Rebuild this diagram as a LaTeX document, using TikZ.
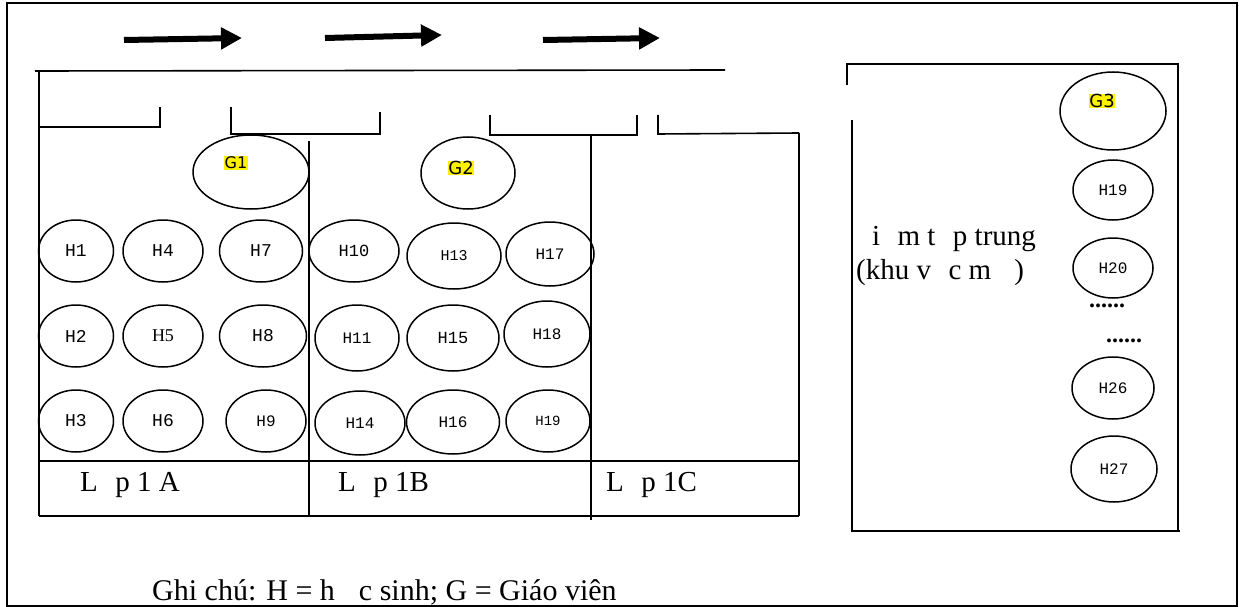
\documentclass[tikz,border=0pt]{standalone}
\usepackage{fontspec}
\setmainfont{Liberation Serif}
\newfontfamily\monof{Liberation Mono}
\newfontfamily\gfont{DejaVu Sans}
\usetikzlibrary{shapes.geometric,arrows.meta}
\begin{document}
\begin{tikzpicture}[x=1pt,y=-1pt,
  ln/.style={line width=1.6pt},
  frame/.style={line width=1.4pt},
  seat/.style={ellipse,draw,line width=1.5pt,inner sep=0pt,font=\monof\fontsize{18}{20}\selectfont},
  tchr/.style={ellipse,draw,line width=1.5pt,inner sep=0pt},
  hl/.style={fill=yellow,inner sep=0.5pt,font=\gfont\fontsize{16}{18}\selectfont},
  lbl/.style={inner sep=0pt,anchor=base west,font=\fontsize{29}{34}\selectfont},
  dots/.style={inner sep=0pt,font=\bfseries\fontsize{24}{26}\selectfont},
  bigarrow/.style={line width=6pt,-{Triangle[length=21pt,width=21pt]}}]
\useasboundingbox (0,0) rectangle (1239,607);
% outer frame
\draw[frame] (7,3) rectangle (1237,606);
% arrows
\coordinate (a1s) at (124,40); \coordinate (a1e) at (242,38);
\coordinate (a2s) at (325,38); \coordinate (a2e) at (442,35);
\coordinate (a3s) at (543,40); \coordinate (a3e) at (660,38);
\draw[bigarrow] (a1s) -- (a1e);
\draw[bigarrow] (a2s) -- (a2e);
\draw[bigarrow] (a3s) -- (a3e);
% top corridor line
\draw[ln] (35,71) -- (725,70);
% left wall
\draw[ln] (39,70) -- (39,516);
% brackets (doors)
\draw[ln] (39,127) -- (160,127) -- (160,107);
\draw[ln] (231,107) -- (231,134) -- (380,134) -- (380,112);
\draw[ln] (490,115) -- (490,135) -- (637,135) -- (637,115);
\draw[ln] (658,115) -- (658,134) -- (799,133);
% class walls
\draw[ln] (309,141) -- (309,516);
\draw[ln] (591,136) -- (591,520);
\draw[ln] (799,133) -- (799,516);
% table rows
\draw[ln] (39,461) -- (799,461);
\draw[ln] (39,516) -- (799,516);
% right panel
\draw[ln] (847,85) -- (847,64) -- (1178,64) -- (1178,531);
\draw[ln] (852,120) -- (852,531) -- (1180,531);
% teachers
\node[tchr,minimum width=116,minimum height=74] (G1) at (251,172) {};
\node[hl] (G1t) at (236,163) {G1};
\node[tchr,minimum width=94,minimum height=72] (G2) at (468,173) {};
\node[hl,font=\gfont\fontsize{18}{20}\selectfont] (G2t) at (461,168) {G2};
\node[tchr,minimum width=106,minimum height=78] (G3) at (1113,111) {};
\node[hl,font=\gfont\fontsize{18}{20}\selectfont] (G3t) at (1102,101) {G3};
% class 1A
\node[seat,minimum width=75,minimum height=62] (H1) at (76,251) {H1};
\node[seat,minimum width=80,minimum height=62] (H4) at (163,251) {H4};
\node[seat,minimum width=83,minimum height=62] (H7) at (261,251) {H7};
\node[seat,minimum width=75,minimum height=62] (H2) at (76,336) {H2};
\node[seat,minimum width=80,minimum height=62,font=\fontsize{18}{20}\selectfont] (H5) at (163,336) {H5};
\node[seat,minimum width=87,minimum height=62] (H8) at (263,336) {H8};
\node[seat,minimum width=75,minimum height=62] (H3) at (76,421) {H3};
\node[seat,minimum width=80,minimum height=62] (H6) at (163,421) {H6};
\node[seat,minimum width=80,minimum height=62,font=\monof\fontsize{16}{18}\selectfont] (H9) at (266,421) {H9};
% class 1B
\node[seat,minimum width=90,minimum height=62,font=\monof\fontsize{17}{19}\selectfont] (H10) at (354,251) {H10};
\node[seat,minimum width=94,minimum height=66,font=\monof\fontsize{15}{17}\selectfont] (H13) at (454,256) {H13};
\node[seat,minimum width=88,minimum height=64,font=\monof\fontsize{16}{18}\selectfont] (H17) at (550,254) {H17};
\node[seat,minimum width=84,minimum height=66,font=\monof\fontsize{16}{18}\selectfont] (H11) at (357,338) {H11};
\node[seat,minimum width=92,minimum height=66,font=\monof\fontsize{17}{19}\selectfont] (H15) at (453,338) {H15};
\node[seat,minimum width=86,minimum height=66,font=\monof\fontsize{16}{18}\selectfont] (H18) at (547,334) {H18};
\node[seat,minimum width=90,minimum height=64,font=\monof\fontsize{16}{18}\selectfont] (H14) at (360,423) {H14};
\node[seat,minimum width=93,minimum height=64,font=\monof\fontsize{16}{18}\selectfont] (H16) at (453,422) {H16};
\node[seat,minimum width=84,minimum height=62,font=\monof\fontsize{14}{16}\selectfont] (H19) at (548,421) {H19};
% right panel seats
\node[seat,minimum width=80,minimum height=60,font=\monof\fontsize{16}{18}\selectfont] (R19) at (1113,190) {H19};
\node[seat,minimum width=80,minimum height=60,font=\monof\fontsize{16}{18}\selectfont] (R20) at (1113,268) {H20};
\node[seat,minimum width=82,minimum height=62,font=\monof\fontsize{16}{18}\selectfont] (R26) at (1113,388) {H26};
\node[seat,minimum width=86,minimum height=66,font=\monof\fontsize{16}{18}\selectfont] (R27) at (1114,469) {H27};
\node[dots] (d1) at (1107,306) {......};
\node[dots] (d2) at (1124,341) {......};
% texts
\node[lbl] (t1) at (872,245) {i\hspace{0.6em}m t\hspace{0.6em}p trung};
\node[lbl] (t2) at (856,279) {(khu v\hspace{0.6em}c m\hspace{0.8em})};
\node[lbl] (c1) at (80,491) {L\hspace{0.6em}p 1 A};
\node[lbl] (c2) at (338,491) {L\hspace{0.6em}p 1B};
\node[lbl] (c3) at (606,491) {L\hspace{0.6em}p 1C};
\node[lbl,font=\fontsize{30}{34}\selectfont] (note) at (152,600) {Ghi chú: H = h\hspace{0.8em}c sinh; G = Giáo viên};
\end{tikzpicture}
\end{document}
